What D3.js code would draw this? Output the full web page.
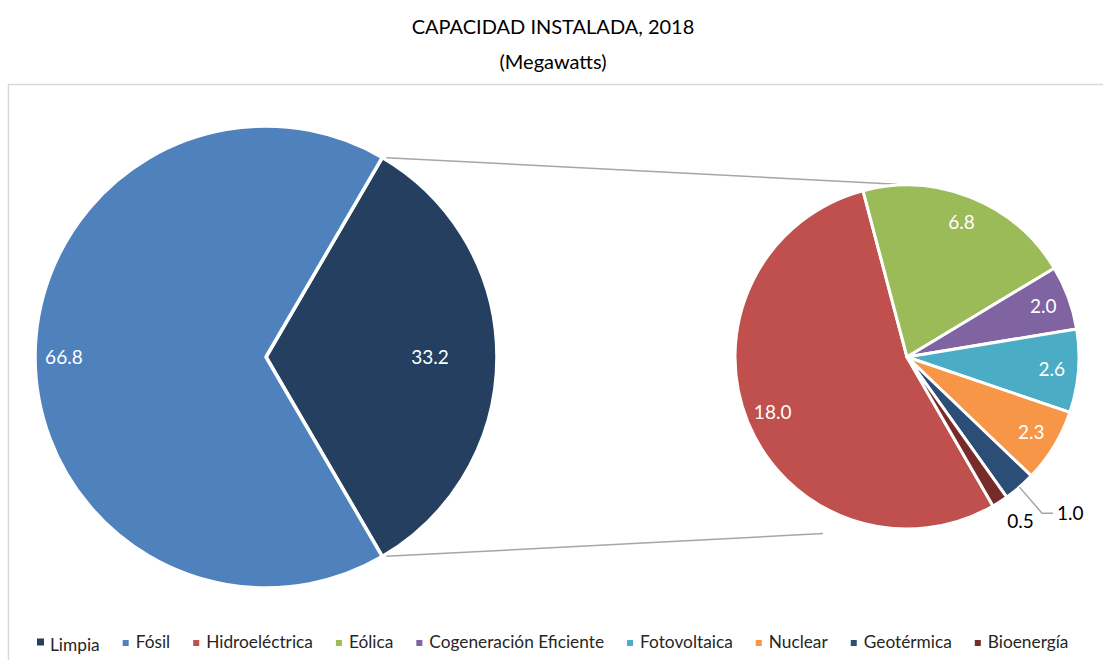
<!DOCTYPE html>
<html>
<head>
<meta charset="utf-8">
<script src="https://cdn.jsdelivr.net/npm/d3@7"></script>
<style>
  body { margin: 0; background: #fff; }
  svg { display: block; font-family: Lato, "Open Sans", sans-serif; }
</style>
</head>
<body>
<svg width="1103" height="660"></svg>
<script>
// values in megawatts (as labelled)
var mainCats = ["Limpia", "Fósil"],
    mainVals = [33.2, 66.8],
    mainColors = ["#243F60", "#4F81BD"];

var subCats = ["Hidroeléctrica", "Eólica", "Cogeneración Eficiente", "Fotovoltaica", "Nuclear", "Geotérmica", "Bioenergía"],
    subVals = [18.0, 6.8, 2.0, 2.6, 2.3, 1.0, 0.5],
    subColors = ["#C0504D", "#9BBB59", "#8064A2", "#4BACC6", "#F79646", "#2C4D75", "#772C2A"];

var svg = d3.select("svg"),
    fmt = d3.format(".1f"),
    rad = Math.PI / 180;

// chart frame
svg.append("rect")
    .attr("x", 8.5).attr("y", 84.5)
    .attr("width", 1110).attr("height", 600)
    .attr("fill", "none").attr("stroke", "#D9D9D9").attr("stroke-width", 1.5);

svg.append("text")
    .attr("x", 553).attr("y", 34)
    .attr("text-anchor", "middle").attr("font-size", 20).attr("fill", "#000")
    .text("CAPACIDAD INSTALADA, 2018");
svg.append("text")
    .attr("x", 553).attr("y", 69)
    .attr("text-anchor", "middle").attr("font-size", 20).attr("fill", "#000")
    .text("(Megawatts)");

// main pie
var c1 = [266, 357], r1 = 231;
var total1 = d3.sum(mainVals);
var pie1 = d3.pie().sort(null)
    .startAngle(Math.PI / 2 - Math.PI * mainVals[0] / total1)
    .endAngle(Math.PI / 2 - Math.PI * mainVals[0] / total1 + 2 * Math.PI);
var arcs1 = pie1(mainVals);
var arc1 = d3.arc().innerRadius(0).outerRadius(r1);

var g1 = svg.append("g").attr("transform", "translate(" + c1 + ")");
g1.selectAll("path")
  .data(arcs1)
  .join("path")
    .attr("d", arc1)
    .attr("fill", function(d, i) { return mainColors[i]; })
    .attr("stroke", "#fff").attr("stroke-width", 3.5).attr("stroke-linejoin", "round");

var labR1 = [0.71, 0.875];
g1.selectAll("text")
  .data(arcs1)
  .join("text")
    .attr("transform", function(d, i) {
      var a = (d.startAngle + d.endAngle) / 2, r = r1 * labR1[i];
      return "translate(" + [r * Math.sin(a), -r * Math.cos(a)] + ")";
    })
    .attr("text-anchor", "middle").attr("dy", "0.35em")
    .attr("font-size", 19).attr("fill", "#fff")
    .text(function(d) { return fmt(d.data); });

// second pie
var c2 = [907, 357], r2 = 172;
var pie2 = d3.pie().sort(null)
    .startAngle(150 * rad).endAngle(150 * rad + 2 * Math.PI);
var arcs2 = pie2(subVals);
var arc2 = d3.arc().innerRadius(0).outerRadius(r2);

// connector lines, from the edges of the "Limpia" slice toward the second pie
var limpia = arcs1[0];
[[limpia.startAngle, -1, -10], [limpia.endAngle, 1, -84]].forEach(function(s) {
  var p = [c1[0] + r1 * Math.sin(s[0]), c1[1] - r1 * Math.cos(s[0])],
      dx = c2[0] - p[0], dy = c2[1] - p[1],
      d = Math.sqrt(dx * dx + dy * dy),
      ang = Math.atan2(dy, dx) + s[1] * Math.asin(r2 / d),
      ex = c2[0] + s[2],
      ey = p[1] + (ex - p[0]) * Math.tan(ang);
  svg.append("line")
      .attr("x1", p[0] + 4).attr("y1", p[1] + 4 * Math.tan(ang))
      .attr("x2", ex).attr("y2", ey)
      .attr("stroke", "#A6A6A6").attr("stroke-width", 1.5);
});

var g2 = svg.append("g").attr("transform", "translate(" + c2 + ")");
g2.selectAll("path")
  .data(arcs2)
  .join("path")
    .attr("d", arc2)
    .attr("fill", function(d, i) { return subColors[i]; })
    .attr("stroke", "#fff").attr("stroke-width", 3).attr("stroke-linejoin", "round");

function mid(d) { return (d.startAngle + d.endAngle) / 2; }
function pt(a, r) { return [r * Math.sin(a), -r * Math.cos(a)]; }

// inside labels
g2.selectAll("text.in")
  .data(arcs2.filter(function(d) { return d.data >= 1.5; }))
  .join("text")
    .attr("class", "in")
    .attr("transform", function(d) { return "translate(" + pt(mid(d), r2 * 0.845) + ")"; })
    .attr("text-anchor", "middle").attr("dy", "0.35em")
    .attr("font-size", 19).attr("fill", "#fff")
    .text(function(d) { return fmt(d.data); });

// Geotérmica: label with leader line
var geo = arcs2[5], bio = arcs2[6];
var p0 = pt(mid(geo), r2), p1 = pt(mid(geo), r2 * 1.2), p2 = [p1[0] + 11, p1[1]];
g2.append("polyline")
    .attr("points", [p0, p1, p2].join(" "))
    .attr("fill", "none").attr("stroke", "#A6A6A6").attr("stroke-width", 1.5);
g2.append("text")
    .attr("x", p2[0] + 4).attr("y", p2[1]).attr("dy", "0.35em")
    .attr("font-size", 19).attr("fill", "#000")
    .text(fmt(geo.data));

// Bioenergía: label just outside
var pb = pt(mid(bio) - 2 * rad, r2 * 1.16);
g2.append("text")
    .attr("x", pb[0]).attr("y", pb[1]).attr("dy", "0.35em")
    .attr("text-anchor", "middle")
    .attr("font-size", 19).attr("fill", "#000")
    .text(fmt(bio.data));

// legend
var legendCats = mainCats.concat(subCats),
    legendColors = mainColors.concat(subColors);
var lg = svg.append("g"), lx = 37;
legendCats.forEach(function(name, i) {
  var first = i === 0;
  lg.append("rect")
      .attr("x", lx).attr("y", first ? 638.5 : 640)
      .attr("width", first ? 7 : 6).attr("height", first ? 7 : 6)
      .attr("fill", legendColors[i]);
  var t = lg.append("text")
      .attr("x", lx + 13).attr("y", first ? 651 : 648)
      .attr("font-size", 17.3).attr("fill", "#262626")
      .text(name);
  lx += 13 + t.node().getComputedTextLength() + 23;
});
</script>
</body>
</html>
